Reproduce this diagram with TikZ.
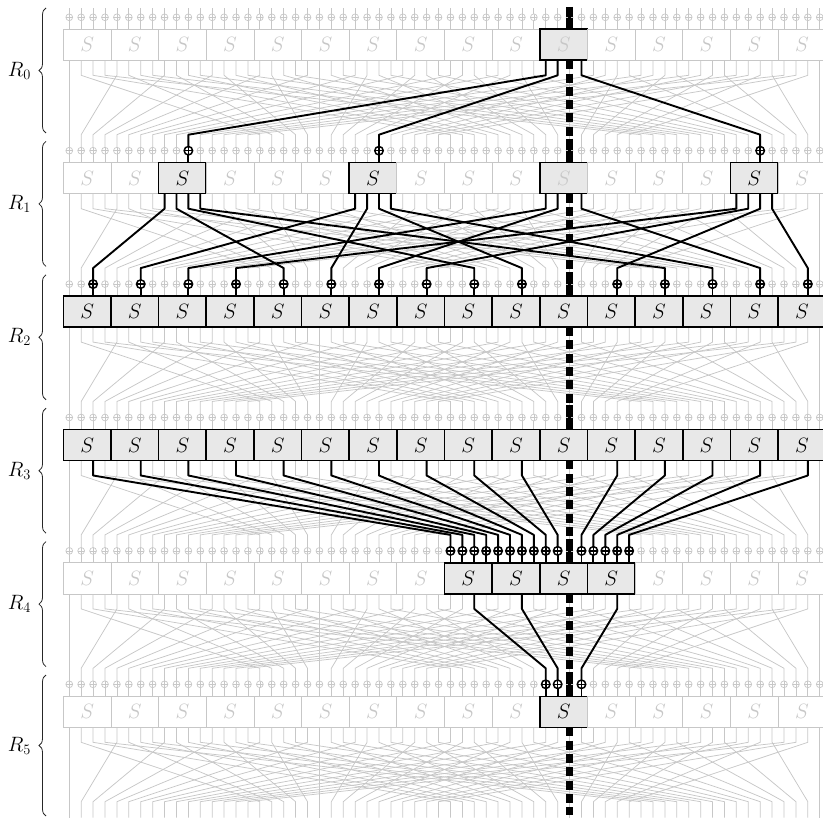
\documentclass[tikz,border=0pt]{standalone}
\usetikzlibrary{decorations.pathreplacing,calc}
\definecolor{lg}{gray}{0.78}
\definecolor{boxfill}{gray}{0.91}
\tikzset{
  wire/.style={draw=lg, line width=0.75pt},
  awire/.style={draw=black, line width=1.9pt, line join=round},
  sbox/.style={draw=lg, fill=white, line width=0.8pt, minimum width=47.65pt, minimum height=31pt, inner sep=0pt, outer sep=0pt, text=lg, font=\fontsize{20.74}{24}\selectfont},
  asbox/.style={sbox, draw=black, fill=boxfill, line width=1.6pt, text=black},
  gsbox/.style={sbox, draw=black, fill=boxfill, line width=1.6pt, text=lg},
  xorg/.style={circle, draw=lg, fill=white, line width=0.7pt, minimum size=6.8pt, inner sep=0pt, outer sep=0pt,
     path picture={\draw[lg, line width=0.7pt] (path picture bounding box.north) -- (path picture bounding box.south) (path picture bounding box.west) -- (path picture bounding box.east);}},
  xora/.style={circle, draw=black, fill=white, line width=1.5pt, minimum size=8.5pt, inner sep=0pt, outer sep=0pt,
     path picture={\draw[black, line width=1.5pt] (path picture bounding box.north) -- (path picture bounding box.south) (path picture bounding box.west) -- (path picture bounding box.east);}},
  trail/.style={black, line width=7pt},
  dtrail/.style={black, line width=7pt, dash pattern=on 9pt off 4.3pt},
  brc/.style={decorate, decoration={brace, amplitude=7pt}, line width=0.8pt, black!85},
  lab/.style={font=\fontsize{20.74}{24}\selectfont},
}
\begin{document}
\begin{tikzpicture}[x=1pt,y=-1pt]
\useasboundingbox (0,0) rectangle (823,818);
% ---------- coordinates ----------
\foreach \r in {0,...,6} {
  \pgfmathsetmacro{\T}{29.3+133.4*\r}
  \foreach \i in {0,...,63} {
    \pgfmathsetmacro{\X}{69.26+11.9125*\i}
    \coordinate (x-\r-\i) at (\X,\T-12);
    \coordinate (t-\r-\i) at (\X,\T);
    \coordinate (o-\r-\i) at (\X,\T+31);
  }
  \foreach \j in {0,...,15} {
    \pgfmathsetmacro{\C}{87.125+47.65*\j}
    \coordinate (c-\r-\j) at (\C,\T+15.5);
  }
}
% ---------- gray wiring ----------
\foreach \i in {0,...,63} \draw[wire] ($(x-0-\i)+(0,-9)$) -- (x-0-\i);
\foreach \r in {0,...,5} {
  \pgfmathtruncatemacro{\rn}{\r+1}
  \foreach \i in {0,...,63} {
    \pgfmathtruncatemacro{\p}{\i==63 ? 63 : mod(16*\i,63)}
    \draw[wire] (x-\r-\i) -- (t-\r-\i);
    \draw[wire] (o-\r-\i) -- ++(0,15) -- ($(x-\rn-\p)+(0,-16)$) -- (x-\rn-\p);
  }
}
\foreach \r in {0,...,5} \foreach \i in {0,...,63} \node[xorg] (xg-\r-\i) at (x-\r-\i) {};
% ---------- thick dashed trail ----------
\draw[trail] ($(x-0-42)+(0,-10.5)$) -- (t-0-42);
\foreach \r in {0,...,5} {
  \pgfmathtruncatemacro{\rn}{\r+1}
  \ifnum\r<5
    \draw[dtrail] (o-\r-42) -- ($(x-\rn-42)+(0,-12)$);
    \draw[trail] ($(x-\rn-42)+(0,-12)$) -- (t-\rn-42);
  \else
    \draw[dtrail] (o-\r-42) -- ($(o-\r-42)+(0,88)$);
  \fi
}
\foreach \r in {0,...,5} \draw[lg, line width=0.7pt] ($(x-\r-42)+(-3.4,0)$) -- ++(2.2,0) ($(x-\r-42)+(1.2,0)$) -- ++(2.2,0);
% ---------- S-boxes ----------
\foreach \r in {0,...,5} \foreach \j in {0,...,15} {
  \pgfmathtruncatemacro{\ka}{(\r==2)||(\r==3)||((\r==1)&&(mod(\j,4)==2)&&(\j!=10))||((\r==4)&&(\j>7)&&(\j<12))||((\r==5)&&(\j==10))}
  \pgfmathtruncatemacro{\kb}{((\r==0)||(\r==1))&&(\j==10)}
  \pgfmathtruncatemacro{\kind}{\ka+2*\kb}
  \ifcase\kind
    \node[sbox] (s-\r-\j) at (c-\r-\j) {$S$};
  \or
    \node[asbox] (s-\r-\j) at (c-\r-\j) {$S$};
  \or
    \node[gsbox] (s-\r-\j) at (c-\r-\j) {$S$};
  \fi
}
% ---------- active wires ----------
\foreach \r/\i in {0/40,0/41,0/43,1/8,1/9,1/10,1/11,1/24,1/25,1/26,1/27,1/40,1/41,1/43,1/56,1/57,1/58,1/59,3/2,3/6,3/10,3/14,3/18,3/22,3/26,3/30,3/34,3/38,3/46,3/50,3/54,3/58,3/62,4/34,4/38,4/46} {
  \pgfmathtruncatemacro{\rn}{\r+1}
  \pgfmathtruncatemacro{\p}{\i==63 ? 63 : mod(16*\i,63)}
  \draw[awire] (o-\r-\i) -- ++(0,15) -- ($(x-\rn-\p)+(0,-16)$) -- (x-\rn-\p);
}
\foreach \r/\i in {1/10,1/26,1/58,2/2,2/6,2/10,2/14,2/18,2/22,2/26,2/30,2/34,2/38,2/46,2/50,2/54,2/58,2/62,4/32,4/33,4/34,4/35,4/36,4/37,4/38,4/39,4/40,4/41,4/43,4/44,4/45,4/46,4/47,5/40,5/41,5/43} {
  \draw[awire] (x-\r-\i) -- (t-\r-\i);
  \node[xora] (xa-\r-\i) at (x-\r-\i) {};
}
% ---------- braces and labels ----------
\foreach \r in {0,...,5} {
  \pgfmathsetmacro{\a}{8+133.4*\r}
  \pgfmathsetmacro{\b}{\r==5 ? 816 : 133+133.4*\r}
  \draw[brc] (46,\b) -- (46,\a);
  \node[lab] (lab-\r) at (19.5,{(\a+\b)/2}) {$R_{\r}$};
}
\end{tikzpicture}
\end{document}
